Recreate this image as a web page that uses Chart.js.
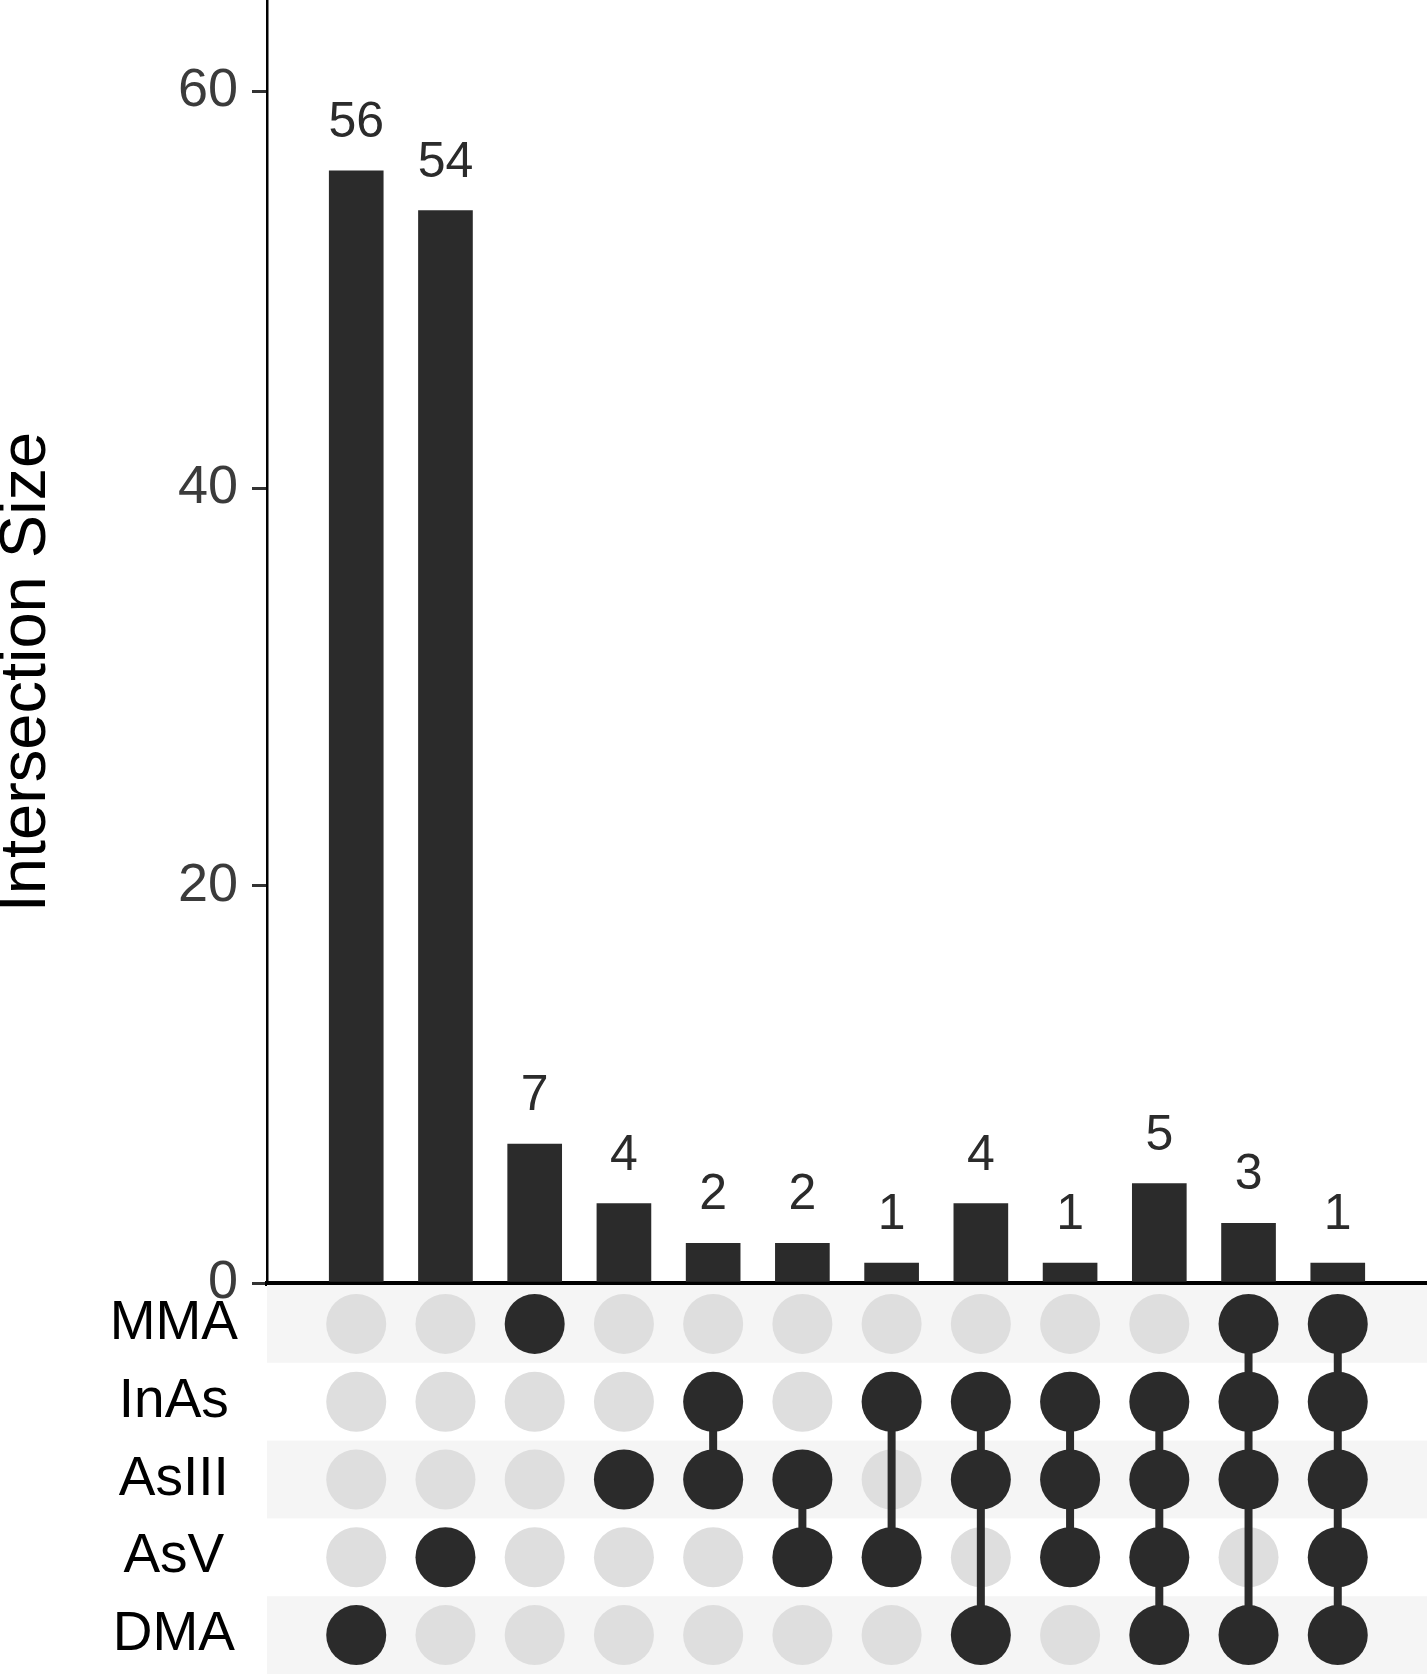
<!DOCTYPE html>
<html>
<head>
<meta charset="utf-8">
<script src="https://cdn.jsdelivr.net/npm/chart.js@4/dist/chart.umd.min.js"></script>
<style>
  body { margin: 0; background: #fff; }
  #wrap { position: relative; width: 1427px; height: 1674px; overflow: hidden; }
  #barChart { position: absolute; left: 0; top: 0; }
  #matrixChart { position: absolute; left: 0; top: 1285px; }
</style>
</head>
<body>
<div id="wrap">
  <canvas id="barChart" width="1427" height="1310"></canvas>
  <canvas id="matrixChart" width="1427" height="389"></canvas>
</div>
<script>
// sets shown in the matrix, top to bottom
const setNames = ['MMA', 'InAs', 'AsIII', 'AsV', 'DMA'];
// intersection sizes, left to right
const sizes = [56, 54, 7, 4, 2, 2, 1, 4, 1, 5, 3, 1];
// which sets make up each intersection
const members = [
    ['DMA'],
    ['AsV'],
    ['MMA'],
    ['AsIII'],
    ['InAs', 'AsIII'],
    ['AsIII', 'AsV'],
    ['InAs', 'AsV'],
    ['InAs', 'AsIII', 'DMA'],
    ['InAs', 'AsIII', 'AsV'],
    ['InAs', 'AsIII', 'AsV', 'DMA'],
    ['MMA', 'InAs', 'AsIII', 'DMA'],
    ['MMA', 'InAs', 'AsIII', 'AsV', 'DMA']
];
const yTicks = [0, 20, 40, 60];

const DARK = '#2b2b2b';
const FONT = "'Liberation Sans', Arial, sans-serif";

const valueLabels = {
    id: 'valueLabels',
    afterDatasetsDraw(chart) {
        const ctx = chart.ctx;
        const meta = chart.getDatasetMeta(0);
        ctx.save();
        ctx.fillStyle = '#2b2b2b';
        ctx.font = '50px ' + FONT;
        ctx.textAlign = 'center';
        ctx.textBaseline = 'alphabetic';
        meta.data.forEach((bar, i) => {
            ctx.fillText(String(sizes[i]), bar.x, bar.y - 34);
        });
        ctx.restore();
    }
};

const yTitle = {
    id: 'yTitle',
    afterDraw(chart) {
        const ctx = chart.ctx;
        ctx.save();
        ctx.translate(27, 672);
        ctx.rotate(-Math.PI / 2);
        ctx.fillStyle = '#000';
        ctx.font = '65px ' + FONT;
        ctx.textAlign = 'center';
        ctx.textBaseline = 'middle';
        ctx.fillText('Intersection Size', 0, 0);
        ctx.restore();
    }
};

new Chart(document.getElementById('barChart'), {
    type: 'bar',
    data: {
        datasets: [{
            data: sizes.map((v, i) => ({ x: i + 1, y: v })),
            backgroundColor: DARK,
            barThickness: 54
        }]
    },
    options: {
        responsive: false,
        animation: false,
        layout: { padding: { top: 0, bottom: 27, left: 0, right: 0 }, autoPadding: false },
        plugins: { legend: { display: false }, tooltip: { enabled: false } },
        scales: {
            x: {
                type: 'linear',
                offset: false,
                min: 0,
                max: sizes.length + 1,
                ticks: { display: false },
                grid: { display: false, offset: false, drawTicks: false, tickLength: 0 },
                border: { display: true, color: '#000', width: 5 }
            },
            y: {
                min: 0,
                max: 64.6,
                afterBuildTicks(scale) {
                    scale.ticks = yTicks.map(v => ({ value: v }));
                },
                ticks: {
                    color: '#3b3b3b',
                    font: { size: 54, family: FONT },
                    padding: 14
                },
                grid: {
                    display: true,
                    drawOnChartArea: false,
                    drawTicks: true,
                    tickLength: 15,
                    lineWidth: 3,
                    color: '#333'
                },
                border: { display: true, color: '#000', width: 2.5 },
                afterFit(scale) {
                    scale.width = 267;
                    scale.paddingTop = 0;
                    scale.paddingBottom = 0;
                }
            }
        }
    },
    plugins: [valueLabels, yTitle]
});

// alternating row bands behind the matrix
const rowBands = {
    id: 'rowBands',
    beforeDatasetsDraw(chart) {
        const { ctx, chartArea, scales } = chart;
        ctx.save();
        ctx.fillStyle = '#f5f5f5';
        setNames.forEach((name, r) => {
            if (r % 2 !== 0) return;
            const y0 = scales.y.getPixelForValue(r - 0.5);
            const y1 = scales.y.getPixelForValue(r + 0.5);
            ctx.fillRect(chartArea.left, Math.min(y0, y1), chartArea.right - chartArea.left, Math.abs(y1 - y0));
        });
        ctx.restore();
    }
};

const inactiveDots = [];
const activeDots = [];
const lineSets = [];
members.forEach((m, i) => {
    const x = i + 1;
    setNames.forEach(name => {
        if (m.includes(name)) activeDots.push({ x: x, y: name });
        else inactiveDots.push({ x: x, y: name });
    });
    if (m.length > 1) {
        const idx = m.map(n => setNames.indexOf(n)).sort((a, b) => a - b);
        lineSets.push({
            data: [{ x: x, y: setNames[idx[0]] }, { x: x, y: setNames[idx[idx.length - 1]] }],
            showLine: true,
            borderColor: DARK,
            borderWidth: 8,
            pointRadius: 0,
            order: 1
        });
    }
});

new Chart(document.getElementById('matrixChart'), {
    type: 'scatter',
    data: {
        datasets: [
            { data: activeDots, backgroundColor: DARK, borderWidth: 0, pointRadius: 30, order: 0 },
            ...lineSets,
            { data: inactiveDots, backgroundColor: '#dedede', borderWidth: 0, pointRadius: 30, order: 2 }
        ]
    },
    options: {
        responsive: false,
        animation: false,
        layout: { padding: 0, autoPadding: false },
        plugins: { legend: { display: false }, tooltip: { enabled: false } },
        scales: {
            x: { type: 'linear', min: 0, max: members.length + 1, display: false },
            y: {
                type: 'category',
                labels: setNames,
                offset: true,
                ticks: {
                    color: '#000',
                    font: { size: 55, family: FONT },
                    crossAlign: 'center',
                    padding: 29
                },
                grid: { display: false, drawTicks: false, tickLength: 0 },
                border: { display: false },
                afterFit(scale) {
                    scale.width = 267;
                    scale.paddingTop = 0;
                    scale.paddingBottom = 0;
                }
            }
        }
    },
    plugins: [rowBands]
});
</script>
</body>
</html>
